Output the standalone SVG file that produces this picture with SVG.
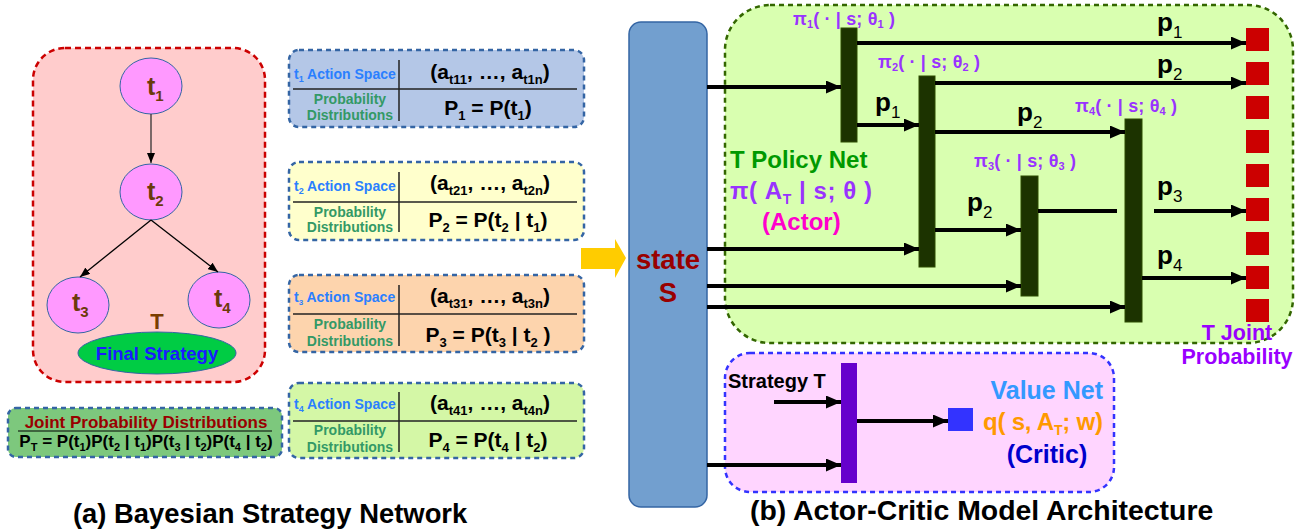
<svg xmlns="http://www.w3.org/2000/svg" width="1314" height="531" viewBox="0 0 1314 531">
<defs>
<style>
text{font-family:"Liberation Sans",Arial,sans-serif;font-weight:bold}
.node{fill:#ff99ff;stroke:#3465a4;stroke-width:1}
.tl{font-size:25px;fill:#6b3a0a}
.tls{font-size:15px}
.abox{stroke:#3465a4;stroke-width:2.5;stroke-dasharray:5,4}
.div{stroke:#222;stroke-width:1.5}
.as{font-size:14px;fill:#2a7fff}
.pd{font-size:14px;fill:#339966;text-anchor:middle}
.eq{font-size:21px;fill:#000;text-anchor:middle}
.sb{font-size:13px}
.bar{fill:#1c3300;stroke:#2d4d00;stroke-width:1}
.sq{fill:#cc0000}
.ar{stroke:#000;stroke-width:4;fill:none}
.pl{font-size:26px;fill:#000}
.ps{font-size:17px;font-weight:normal}
.pi{font-size:18px;fill:#9933ff}
.pis{font-size:11px}
</style>
<marker id="ah" markerUnits="userSpaceOnUse" markerWidth="15" markerHeight="13" refX="15" refY="6.5" orient="auto">
<path d="M0,0 L15,6.5 L0,13 z" fill="#000"/>
</marker>
<marker id="sh" markerUnits="userSpaceOnUse" markerWidth="10" markerHeight="8" refX="10" refY="4" orient="auto">
<path d="M0,0 L10,4 L0,8 z" fill="#000"/>
</marker>
</defs>
<rect width="1314" height="531" fill="#fff"/>

<!-- (a) Bayesian strategy network panel -->
<g id="bsn-panel">
<rect x="33" y="48" width="232" height="334" rx="32" fill="#ffcccc" stroke="#cc0000" stroke-width="2.5" stroke-dasharray="6,4"/>
</g>
<g id="node-t1">
<ellipse class="node" cx="151" cy="86" rx="31" ry="28"/>
<text class="tl" x="147" y="95">t<tspan class="tls" dy="6">1</tspan></text>
</g>
<g id="node-t2">
<ellipse class="node" cx="151" cy="192" rx="31" ry="28"/>
<text class="tl" x="147" y="200">t<tspan class="tls" dy="6">2</tspan></text>
</g>
<g id="node-t3">
<ellipse class="node" cx="78" cy="305" rx="31" ry="28"/>
<text class="tl" x="72" y="311">t<tspan class="tls" dy="6">3</tspan></text>
</g>
<g id="node-t4">
<ellipse class="node" cx="219" cy="300" rx="31" ry="28"/>
<text class="tl" x="214" y="307">t<tspan class="tls" dy="6">4</tspan></text>
</g>
<g id="node-final">
<text x="157" y="329" font-size="22" fill="#7a3d00" text-anchor="middle">T</text>
<ellipse cx="157" cy="353" rx="79" ry="21" fill="#00cc44" stroke="#3465a4" stroke-width="1"/>
<text x="157" y="360" font-size="18.5" fill="#1a1aff" text-anchor="middle">Final Strategy</text>
</g>
<g id="joint-dist">
<rect x="8" y="408" width="274" height="49" rx="8" fill="#7dc87d" stroke="#3465a4" stroke-width="2.5" stroke-dasharray="5,4"/>
<text x="146" y="428" font-size="17" fill="#990000" text-anchor="middle">Joint Probability Distributions</text>
<line x1="18" y1="431" x2="272" y2="431" stroke="#000" stroke-width="1"/>
<text x="146" y="447" font-size="17" fill="#000" text-anchor="middle">P<tspan font-size="11" dy="4">T</tspan><tspan dy="-4"> = P(t</tspan><tspan font-size="11" dy="4">1</tspan><tspan dy="-4">)P(t</tspan><tspan font-size="11" dy="4">2</tspan><tspan dy="-4"> | t</tspan><tspan font-size="11" dy="4">1</tspan><tspan dy="-4">)P(t</tspan><tspan font-size="11" dy="4">3</tspan><tspan dy="-4"> | t</tspan><tspan font-size="11" dy="4">2</tspan><tspan dy="-4">)P(t</tspan><tspan font-size="11" dy="4">4</tspan><tspan dy="-4"> | t</tspan><tspan font-size="11" dy="4">2</tspan><tspan dy="-4">)</tspan></text>
</g>

<!-- action space boxes -->
<g id="action-t1">
<rect class="abox" x="289" y="50" width="295" height="77" rx="10" fill="#b4c7e7"/>
<line class="div" x1="399" y1="60" x2="399" y2="121"/>
<line class="div" x1="293" y1="89" x2="577" y2="89"/>
<text class="as" x="294" y="79">t<tspan font-size="9" dy="3">1</tspan><tspan dy="-3"> Action Space</tspan></text>
<text class="pd" x="350" y="104">Probability</text>
<text class="pd" x="350" y="120">Distributions</text>
<text class="eq" x="490" y="79">(a<tspan class="sb" dy="5">t11</tspan><tspan dy="-5">, …, a</tspan><tspan class="sb" dy="5">t1n</tspan><tspan dy="-5">)</tspan></text>
<text class="eq" x="488" y="115">P<tspan class="sb" dy="5">1</tspan><tspan dy="-5"> = P(t</tspan><tspan class="sb" dy="5">1</tspan><tspan dy="-5">)</tspan></text>
</g>
<g id="action-t2">
<rect class="abox" x="289" y="162" width="295" height="78" rx="10" fill="#ffffcc"/>
<line class="div" x1="399" y1="172" x2="399" y2="232"/>
<line class="div" x1="293" y1="202" x2="577" y2="202"/>
<text class="as" x="294" y="191">t<tspan font-size="9" dy="3">2</tspan><tspan dy="-3"> Action Space</tspan></text>
<text class="pd" x="350" y="217">Probability</text>
<text class="pd" x="350" y="232">Distributions</text>
<text class="eq" x="490" y="190">(a<tspan class="sb" dy="5">t21</tspan><tspan dy="-5">, …, a</tspan><tspan class="sb" dy="5">t2n</tspan><tspan dy="-5">)</tspan></text>
<text class="eq" x="488" y="227">P<tspan class="sb" dy="5">2</tspan><tspan dy="-5"> = P(t</tspan><tspan class="sb" dy="5">2</tspan><tspan dy="-5"> | t</tspan><tspan class="sb" dy="5">1</tspan><tspan dy="-5">)</tspan></text>
</g>
<g id="action-t3">
<rect class="abox" x="289" y="275" width="295" height="77" rx="10" fill="#fdd4ad"/>
<line class="div" x1="399" y1="285" x2="399" y2="346"/>
<line class="div" x1="293" y1="314" x2="577" y2="314"/>
<text class="as" x="294" y="302" font-size="12.5">t<tspan font-size="8" dy="3">3</tspan><tspan dy="-3"> Action Space</tspan></text>
<text class="pd" x="350" y="329">Probability</text>
<text class="pd" x="350" y="346">Distributions</text>
<text class="eq" x="490" y="303">(a<tspan class="sb" dy="5">t31</tspan><tspan dy="-5">, …, a</tspan><tspan class="sb" dy="5">t3n</tspan><tspan dy="-5">)</tspan></text>
<text class="eq" x="488" y="342">P<tspan class="sb" dy="5">3</tspan><tspan dy="-5"> = P(t</tspan><tspan class="sb" dy="5">3</tspan><tspan dy="-5"> | t</tspan><tspan class="sb" dy="5">2</tspan><tspan dy="-5"> )</tspan></text>
</g>
<g id="action-t4">
<rect class="abox" x="289" y="383" width="295" height="75" rx="10" fill="#d4f7a6"/>
<line class="div" x1="399" y1="392" x2="399" y2="452"/>
<line class="div" x1="293" y1="421" x2="577" y2="421"/>
<text class="as" x="294" y="409">t<tspan font-size="9" dy="3">4</tspan><tspan dy="-3"> Action Space</tspan></text>
<text class="pd" x="350" y="435">Probability</text>
<text class="pd" x="350" y="452">Distributions</text>
<text class="eq" x="490" y="410">(a<tspan class="sb" dy="5">t41</tspan><tspan dy="-5">, …, a</tspan><tspan class="sb" dy="5">t4n</tspan><tspan dy="-5">)</tspan></text>
<text class="eq" x="488" y="447">P<tspan class="sb" dy="5">4</tspan><tspan dy="-5"> = P(t</tspan><tspan class="sb" dy="5">4</tspan><tspan dy="-5"> | t</tspan><tspan class="sb" dy="5">2</tspan><tspan dy="-5">)</tspan></text>
</g>

<!-- (b) actor-critic -->
<g id="policy-panel">
<rect x="725" y="5" width="568" height="338" rx="45" fill="#d9ffb0" stroke="#336600" stroke-width="2.5" stroke-dasharray="5,4"/>
<text x="730" y="168" font-size="24" fill="#009900">T Policy Net</text>
<text x="730" y="199" font-size="24" fill="#9933ff" textLength="142" lengthAdjust="spacing">π( A<tspan font-size="14" dy="5">T</tspan><tspan dy="-5"> | s; θ )</tspan></text>
<text x="762" y="230" font-size="24" fill="#ff00cc">(Actor)</text>
</g>
<g id="critic-panel">
<rect x="725" y="353" width="389" height="139" rx="25" fill="#ffd5ff" stroke="#3333ff" stroke-width="2.5" stroke-dasharray="5,4"/>
<text x="728" y="388" font-size="20" fill="#000">Strategy T</text>
<text x="1103" y="399" font-size="25" fill="#3399ff" text-anchor="end">Value Net</text>
<text x="983" y="430" font-size="24" fill="#ff9900" textLength="120" lengthAdjust="spacing">q( s, A<tspan font-size="14" dy="5">T</tspan><tspan dy="-5">; w)</tspan></text>
<text x="1047" y="463" font-size="25" fill="#0000cc" text-anchor="middle">(Critic)</text>
</g>
<g id="state">
<rect x="629" y="22" width="78" height="485" rx="12" fill="#729fcf" stroke="#3465a4" stroke-width="1.5"/>
<text x="668" y="269" font-size="27.5" fill="#990000" text-anchor="middle">state</text>
<text x="668" y="302" font-size="27.5" fill="#990000" text-anchor="middle">S</text>
</g>
<g id="yellow-arrow">
<polygon points="581,248 615,248 615,239 626,258 615,278 615,269 581,269" fill="#ffcc00"/>
</g>

<g id="policy-pi1">
<rect class="bar" x="841" y="28" width="16" height="114"/>
<text class="pi" x="793" y="25" textLength="102" lengthAdjust="spacing">π<tspan class="pis" dy="3">1</tspan><tspan dy="-3">( · | s; θ</tspan><tspan class="pis" dy="3">1</tspan><tspan dy="-3"> )</tspan></text>
</g>
<g id="policy-pi2">
<rect class="bar" x="919" y="76" width="16" height="191"/>
<text class="pi" x="878" y="68" textLength="102" lengthAdjust="spacing">π<tspan class="pis" dy="3">2</tspan><tspan dy="-3">( · | s; θ</tspan><tspan class="pis" dy="3">2</tspan><tspan dy="-3"> )</tspan></text>
</g>
<g id="policy-pi3">
<rect class="bar" x="1021" y="176" width="17" height="120"/>
<text class="pi" x="974" y="167" textLength="102" lengthAdjust="spacing">π<tspan class="pis" dy="3">3</tspan><tspan dy="-3">( · | s; θ</tspan><tspan class="pis" dy="3">3</tspan><tspan dy="-3"> )</tspan></text>
</g>
<g id="policy-pi4">
<rect class="bar" x="1125" y="119" width="17" height="203"/>
<text class="pi" x="1075" y="112" textLength="102" lengthAdjust="spacing">π<tspan class="pis" dy="3">4</tspan><tspan dy="-3">( · | s; θ</tspan><tspan class="pis" dy="3">4</tspan><tspan dy="-3"> )</tspan></text>
</g>
<g id="critic-net">
<rect x="841" y="363" width="16" height="120" fill="#6600cc"/>
</g>
<g id="value-out">
<rect x="948" y="408" width="25" height="23" fill="#3333ff"/>
</g>
<g id="joint-prob">
<rect class="sq" x="1246" y="28" width="23" height="23"/>
<rect class="sq" x="1246" y="62" width="23" height="23"/>
<rect class="sq" x="1246" y="96" width="23" height="23"/>
<rect class="sq" x="1246" y="130" width="23" height="23"/>
<rect class="sq" x="1246" y="164" width="23" height="23"/>
<rect class="sq" x="1246" y="198" width="23" height="23"/>
<rect class="sq" x="1246" y="232" width="23" height="23"/>
<rect class="sq" x="1246" y="266" width="23" height="23"/>
<rect class="sq" x="1246" y="299" width="23" height="23"/>
<text x="1237" y="340" font-size="21.5" fill="#9900ff" text-anchor="middle">T Joint</text>
<text x="1237" y="364" font-size="21.5" fill="#9900ff" text-anchor="middle">Probability</text>
</g>

<g id="connectors">
<line x1="151" y1="114" x2="151" y2="163" stroke="#333" stroke-width="1.3" marker-end="url(#sh)"/>
<line x1="151" y1="220" x2="80" y2="277" stroke="#000" stroke-width="1.3" marker-end="url(#sh)"/>
<line x1="151" y1="220" x2="218" y2="272" stroke="#000" stroke-width="1.3" marker-end="url(#sh)"/>

<line class="ar" x1="707" y1="87" x2="841" y2="87" marker-end="url(#ah)"/>
<line class="ar" x1="857" y1="43" x2="1246" y2="43" marker-end="url(#ah)"/>
<line class="ar" x1="935" y1="83" x2="1246" y2="83" marker-end="url(#ah)"/>
<line class="ar" x1="857" y1="125" x2="919" y2="125" marker-end="url(#ah)"/>
<line class="ar" x1="935" y1="132" x2="1125" y2="132" marker-end="url(#ah)"/>
<line class="ar" x1="935" y1="230" x2="1021" y2="230" marker-end="url(#ah)"/>
<line class="ar" x1="707" y1="249" x2="919" y2="249" marker-end="url(#ah)"/>
<line class="ar" x1="707" y1="286" x2="1021" y2="286" marker-end="url(#ah)"/>
<line class="ar" x1="707" y1="307" x2="1125" y2="307" marker-end="url(#ah)"/>
<line class="ar" x1="1038" y1="211" x2="1117" y2="211"/>
<line class="ar" x1="1154" y1="211" x2="1246" y2="211" marker-end="url(#ah)"/>
<line class="ar" x1="1142" y1="278" x2="1246" y2="278" marker-end="url(#ah)"/>
<line class="ar" x1="774" y1="402" x2="841" y2="402" marker-end="url(#ah)"/>
<line class="ar" x1="707" y1="465" x2="841" y2="465" marker-end="url(#ah)"/>
<line class="ar" x1="857" y1="421" x2="948" y2="421" marker-end="url(#ah)"/>

<text class="pl" x="1157" y="31">p<tspan class="ps" dy="7">1</tspan></text>
<text class="pl" x="1157" y="73">p<tspan class="ps" dy="7">2</tspan></text>
<text class="pl" x="875" y="111">p<tspan class="ps" dy="7">1</tspan></text>
<text class="pl" x="1017" y="121">p<tspan class="ps" dy="7">2</tspan></text>
<text class="pl" x="967" y="211">p<tspan class="ps" dy="7">2</tspan></text>
<text class="pl" x="1157" y="195">p<tspan class="ps" dy="7">3</tspan></text>
<text class="pl" x="1157" y="264">p<tspan class="ps" dy="7">4</tspan></text>
</g>

<g id="titles">
<text x="73" y="523" font-size="27.4" fill="#000">(a) Bayesian Strategy Network</text>
<text x="750" y="520" font-size="28.4" fill="#000">(b) Actor-Critic Model Architecture</text>
</g>
</svg>
